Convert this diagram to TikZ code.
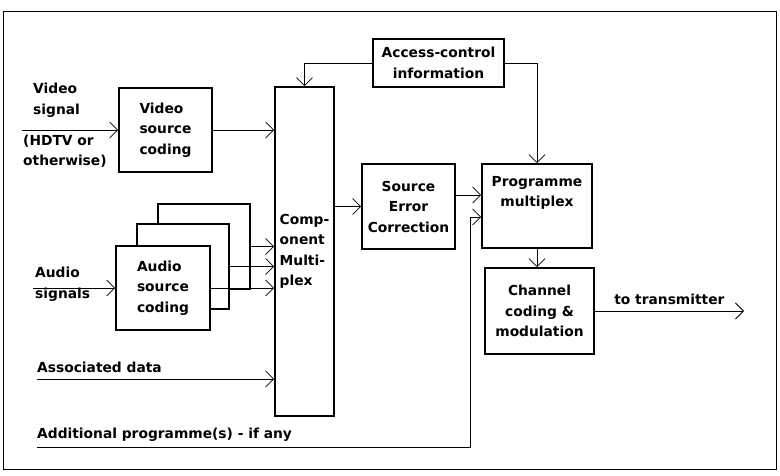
\documentclass[tikz,border=0pt]{standalone}
\usepackage{fontspec}
\setmainfont{DejaVu Sans}
\usetikzlibrary{positioning,arrows.meta}

\begin{document}
\begin{tikzpicture}[x=1pt, y=-1pt, font=\fontsize{13.8}{20.5}\selectfont\bfseries,
  box/.style={draw, line width=1.6pt, align=left, inner sep=0pt},
  arr/.style={-{Straight Barb[length=8pt,width=16pt]}, line width=0.8pt},
  lbl/.style={anchor=west, align=left, inner sep=0pt}]
\useasboundingbox (0,0) rectangle (780,476);
\draw[line width=0.8pt] (3,11) rectangle (776,469);

\node[box, minimum width=93pt, minimum height=84pt] (vsc) at (165.5,130) {Video\\source\\coding};
\node[box, minimum width=92pt, minimum height=85pt] (aud3) at (204,246.5) {};
\node[box, fill=white, minimum width=92pt, minimum height=85pt] (aud2) at (183,266.5) {};
\node[box, fill=white, minimum width=94pt, minimum height=84pt] (aud1) at (163,288) {Audio\\source\\coding};
\node[box, minimum width=59pt, minimum height=329pt] (cmux) at (304.5,251.5) {Comp-\\onent\\Multi-\\plex};
\node[box, align=center, minimum width=131pt, minimum height=48pt] (acc) at (438.5,63) {Access-control\\information};
\node[box, align=center, minimum width=93pt, minimum height=85pt] (sec) at (408.5,206.5) {Source\\Error\\Correction};
\node[box, minimum width=110pt, minimum height=84pt] (pmux) at (537,206) {};
\node[lbl, align=center, below=13pt of pmux.north] (pmuxtxt) {Programme\\multiplex};
\node[box, align=center, minimum width=109pt, minimum height=86pt] (ccm) at (539.5,311) {Channel\\coding \&\\modulation};

\node[lbl] (vidlbl) at (33,100) {Video\\signal};
\node[lbl] (hdtvlbl) at (23,151) {(HDTV or\\otherwise)};
\node[lbl] (audlbl) at (35,284) {Audio\\signals};
\node[lbl] (datlbl) at (37,367) {Associated data};
\node[lbl] (prglbl) at (37,435) {Additional programme(s) - if any};

\coordinate (vin) at (22,130);
\coordinate (ain) at (33,288);
\coordinate (din) at (37,379);
\coordinate (pin) at (37,447);
\coordinate (pbend) at (470,447);
\coordinate (tx) at (744,311);
\coordinate (pin1) at ([yshift=11pt]pmux.west);
\coordinate (pin2) at ([yshift=-11pt]pmux.west);

\draw[arr] (vin) -- (vsc);
\draw[arr] (vsc.east) -- (vsc.east -| cmux.west);
\draw[arr] (aud3.east) -- (aud3.east -| cmux.west);
\draw[arr] (aud2.east) -- (aud2.east -| cmux.west);
\draw[arr] (aud1.east) -- (aud1.east -| cmux.west);
\draw[arr] (ain) -- (aud1);
\draw[arr] (din) -- (din -| cmux.west);
\draw[arr] (cmux.east |- sec) -- (sec);
\draw[arr] (acc.west) -| (cmux.north);
\draw[arr] (acc.east) -| (pmux.north);
\draw[arr] (sec.east |- pin1) -- (pin1);
\draw[arr] (pin) -- (pbend) |- (pin2);
\draw[arr] (pmux.south) -- (pmux.south |- ccm.north);
\draw[arr] (ccm) -- (tx) node[midway, above=6pt, inner sep=0pt] {to transmitter};
\end{tikzpicture}
\end{document}
